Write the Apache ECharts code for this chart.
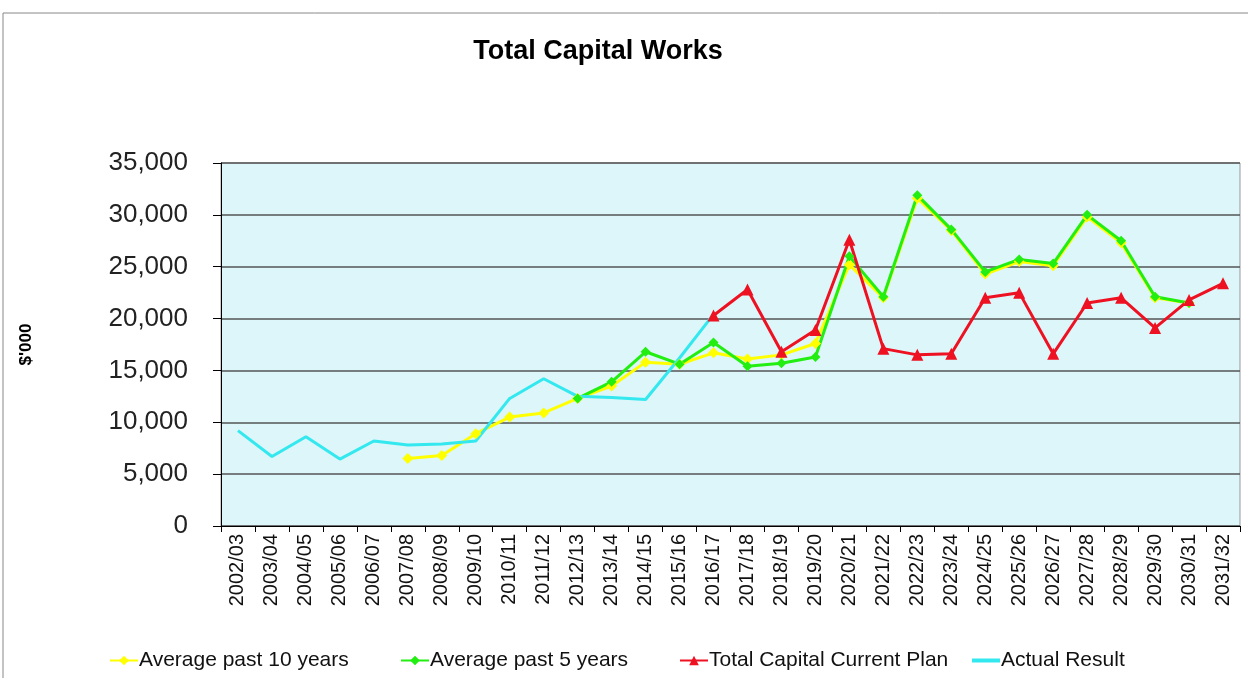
<!DOCTYPE html>
<html>
<head>
<meta charset="utf-8">
<script src="https://cdn.jsdelivr.net/npm/echarts@6/dist/echarts.min.js"></script>
<style>
  html, body { margin: 0; padding: 0; background: #fff; }
  #chart { width: 1248px; height: 678px; }
</style>
</head>
<body>
<div id="chart"></div>
<script>
const years = ['2002/03', '2003/04', '2004/05', '2005/06', '2006/07', '2007/08', '2008/09', '2009/10',
  '2010/11', '2011/12', '2012/13', '2013/14', '2014/15', '2015/16', '2016/17', '2017/18', '2018/19',
  '2019/20', '2020/21', '2021/22', '2022/23', '2023/24', '2024/25', '2025/26', '2026/27', '2027/28',
  '2028/29', '2029/30', '2030/31', '2031/32']

const avg10 = [null, null, null, null, null, 6500, 6800, 8900, 10500, 10900, 12300, 13500, 15800, 15600,
  16700, 16100, 16500, 17600, 25200, 22000, 31600, 28500, 24300, 25500, 25100, 29800, 27300, 22000, 21500, null]

const avg5 = [null, null, null, null, null, null, null, null, null, null, 12300, 13900, 16800, 15600,
  17700, 15400, 15700, 16300, 26000, 22100, 31900, 28600, 24500, 25700, 25300, 30000, 27500, 22100, 21500, null]

const currentPlan = [null, null, null, null, null, null, null, null, null, null, null, null, null, null,
  20300, 22800, 16800, 18900, 27600, 17100, 16500, 16600, 22000, 22500, 16600, 21500, 22000, 19100, 21800, 23400]

const actual = [9200, 6700, 8600, 6450, 8200, 7800, 7900, 8200, 12300, 14200, 12500, 12400, 12200, 16200,
  20400, null, null, null, null, null, null, null, null, null, null, null, null, null, null, null]

const seriesNames = ['Average past 10 years', 'Average past 5 years', 'Total Capital Current Plan', 'Actual Result']

const font = '"Liberation Sans", Arial, sans-serif'

const chart = echarts.init(document.getElementById('chart'))

function lineSeries(name, data, color, symbol, symbolSize) {
  return {
    name,
    type: 'line',
    data,
    symbol,
    symbolSize,
    showSymbol: symbol !== 'none',
    connectNulls: false,
    lineStyle: { color, width: 3 },
    itemStyle: { color, borderWidth: 0 }
  }
}

// one legend per entry so each one sits where the original has it
const legendLefts = [104, 395, 674, 967]
const legends = seriesNames.map((name, i) => ({
  // the actual result has no markers, so its key is a plain line
  data: [i === 3 ? { name, icon: 'path://M0,0 L28,0 L28,4 L0,4 Z' } : name],
  left: legendLefts[i],
  bottom: 2,
  itemWidth: 28,
  itemHeight: i === 3 ? 4 : 12,
  itemGap: 0,
  textStyle: { fontFamily: font, fontSize: 21, color: '#111', padding: [0, 0, 0, -4] }
}))

chart.setOption({
  animation: false,
  backgroundColor: '#fff',
  title: {
    text: 'Total Capital Works',
    left: 593,
    top: 33,
    textAlign: 'center',
    textStyle: { fontFamily: font, fontSize: 27, fontWeight: 'bold', color: '#000' }
  },
  graphic: [{
    type: 'rect',
    shape: { x: 3, y: 13, width: 1260, height: 700 },
    style: { fill: 'none', stroke: '#888', lineWidth: 1 },
    silent: true
  }],
  legend: legends,
  grid: {
    left: 221,
    right: 8,
    top: 163,
    bottom: 152,
    show: true,
    backgroundColor: '#dcf6f9',
    borderColor: '#999',
    borderWidth: 1
  },
  xAxis: {
    type: 'category',
    data: years,
    boundaryGap: true,
    axisLine: { lineStyle: { color: '#000', width: 1 } },
    axisTick: { show: true, length: 6, lineStyle: { color: '#000' } },
    axisLabel: {
      rotate: 90,
      interval: 0,
      margin: 8,
      fontFamily: font,
      fontSize: 20,
      color: '#111'
    }
  },
  yAxis: {
    type: 'value',
    min: 0,
    max: 35000,
    interval: 5000,
    name: "$'000",
    nameLocation: 'middle',
    nameRotate: 90,
    nameGap: 186,
    nameTextStyle: { fontFamily: font, fontSize: 17, fontWeight: 'bold', color: '#000' },
    axisLine: { show: true, lineStyle: { color: '#000', width: 1 } },
    axisTick: { show: true, length: 8, lineStyle: { color: '#000' } },
    splitLine: { lineStyle: { color: '#555', width: 1.5 } },
    axisLabel: {
      margin: 33,
      fontFamily: font,
      fontSize: 26,
      color: '#222',
      padding: [3, 0, 0, 0],
      formatter: v => v.toLocaleString('en-US')
    }
  },
  series: [
    lineSeries(seriesNames[0], avg10, '#ffff00', 'diamond', 11),
    lineSeries(seriesNames[1], avg5, '#22ee11', 'diamond', 10),
    lineSeries(seriesNames[2], currentPlan, '#ee1122', 'triangle', 12),
    lineSeries(seriesNames[3], actual, '#33e8ee', 'none', 0)
  ]
})
</script>
</body>
</html>
